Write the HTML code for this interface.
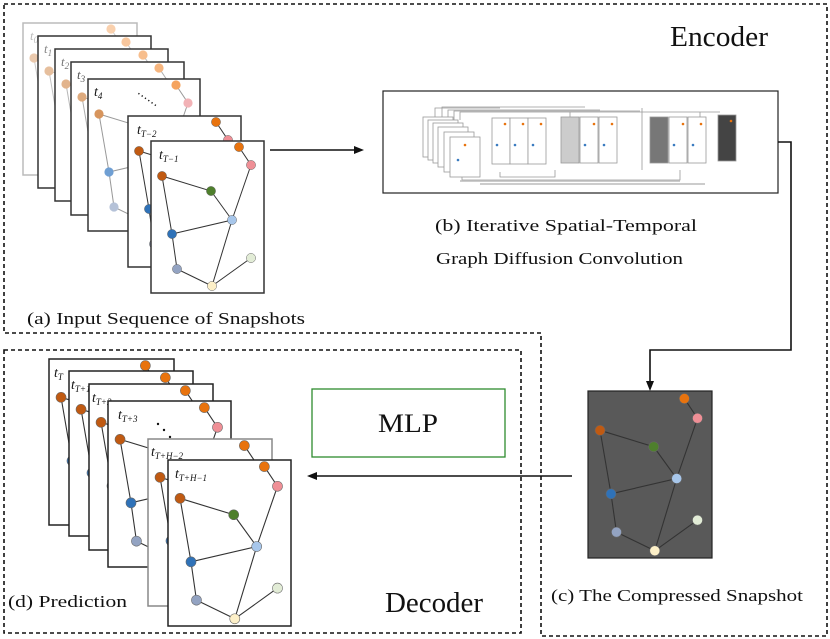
<!DOCTYPE html>
<html><head><meta charset="utf-8"><style>
body{margin:0;background:#fff}
svg{display:block}
text{font-family:"Liberation Serif",serif;fill:#111}
</style></head><body>
<svg width="830" height="639" viewBox="0 0 830 639" xmlns="http://www.w3.org/2000/svg">
<defs>
<g id="g">
<path d="M88 6L100 24L81 79L61 145L100 117M11 35L60 50L81 79L21 93L11 35M21 93L26 128L61 145" stroke="#333" stroke-width="1" fill="none"/>
<g stroke="#666" stroke-width="0.5">
<circle cx="88" cy="6" r="4.6" fill="#e8730e"/>
<circle cx="100" cy="24" r="4.6" fill="#ef8f96"/>
<circle cx="11" cy="35" r="4.6" fill="#c05a12"/>
<circle cx="60" cy="50" r="4.6" fill="#4e7f2c"/>
<circle cx="81" cy="79" r="4.6" fill="#a7c6ea"/>
<circle cx="21" cy="93" r="4.6" fill="#2f72b8"/>
<circle cx="26" cy="128" r="4.6" fill="#93a3c2"/>
<circle cx="61" cy="145" r="4.6" fill="#fdf0c8"/>
<circle cx="100" cy="117" r="4.6" fill="#e2ecd6"/>
</g>
</g>
<g id="gf">
<path d="M88 6L100 24L81 79L61 145L100 117M11 35L60 50L81 79L21 93L11 35M21 93L26 128L61 145" stroke="#999" stroke-width="1" fill="none"/>
<g>
<circle cx="88" cy="6" r="4.6" fill="#f5a35e"/>
<circle cx="100" cy="24" r="4.6" fill="#f2b2b6"/>
<circle cx="11" cy="35" r="4.6" fill="#d7955d"/>
<circle cx="60" cy="50" r="4.6" fill="#d7955d"/>
<circle cx="81" cy="79" r="4.6" fill="#7aa6d6"/>
<circle cx="21" cy="93" r="4.6" fill="#6f9fd3"/>
<circle cx="26" cy="128" r="4.6" fill="#b5c2d8"/>
<circle cx="61" cy="145" r="4.6" fill="#fdf0c8"/>
<circle cx="100" cy="117" r="4.6" fill="#e2ecd6"/>
</g>
</g>
</defs>

<path d="M4 4H827V636H541V333H4Z" fill="none" stroke="#111" stroke-width="1.6" stroke-dasharray="4,3"/>
<rect x="4" y="350" width="517" height="283" fill="none" stroke="#111" stroke-width="1.6" stroke-dasharray="4,3"/>

<g stroke-width="1.5">
<rect x="23" y="23" width="114" height="152" fill="#fff" stroke="#bbb"/>
<g opacity="0.5"><use href="#gf" transform="translate(23,23)"/></g>
<text x="30" y="40" font-size="13" font-style="italic" style="fill:#bbb">t<tspan font-size="9" dy="3">0</tspan></text>
<rect x="38" y="36" width="113" height="152" fill="#fff" stroke="#333"/>
<g opacity="0.6"><use href="#gf" transform="translate(38,36)"/></g>
<text x="44" y="53" font-size="13" font-style="italic" style="fill:#888">t<tspan font-size="9" dy="3">1</tspan></text>
<rect x="55" y="49" width="113" height="152" fill="#fff" stroke="#333"/>
<g opacity="0.7"><use href="#gf" transform="translate(55,49)"/></g>
<text x="61" y="66" font-size="13" font-style="italic" style="fill:#777">t<tspan font-size="9" dy="3">2</tspan></text>
<rect x="71" y="62" width="113" height="153" fill="#fff" stroke="#333"/>
<g opacity="0.8"><use href="#gf" transform="translate(71,62)"/></g>
<text x="77" y="79" font-size="13" font-style="italic" style="fill:#555">t<tspan font-size="9" dy="3">3</tspan></text>
<rect x="88" y="79" width="112" height="152" fill="#fff" stroke="#333"/>
<use href="#gf" transform="translate(88,79)"/>
<text x="94" y="96" font-size="14" font-style="italic">t<tspan font-size="9" dy="3">4</tspan></text>
<text x="135" y="100" font-size="12" transform="rotate(35 142 98)">⋯⋯</text>
<rect x="128" y="116" width="113" height="151" fill="#fff" stroke="#333"/>
<use href="#g" transform="translate(128,116)"/>
<text x="137" y="134" font-size="14" font-style="italic">t<tspan font-size="9" dy="3">T−2</tspan></text>
<rect x="151" y="141" width="113" height="152" fill="#fff" stroke="#333"/>
<use href="#g" transform="translate(151,141)"/>
<text x="159" y="159" font-size="14" font-style="italic">t<tspan font-size="9" dy="3">T−1</tspan></text>
</g>
<text x="27" y="324" font-size="17" textLength="278" lengthAdjust="spacingAndGlyphs">(a)  Input Sequence of Snapshots</text>

<line x1="270" y1="150" x2="357" y2="150" stroke="#111" stroke-width="1.6"/>
<path d="M364 150L354 146L354 154Z" fill="#111"/>

<rect x="383" y="91" width="395" height="102" fill="#fff" stroke="#222" stroke-width="1.2"/>
<g stroke="#999" stroke-width="0.8" fill="#fff">
<path d="M435 120V108H500M442 120V107H585M448 120V110H600M454 120V111H640M460 120V112H720M700 112V120M570 112V120M642 108V170M462 172V180H680V170M500 172V177H555V170" fill="none"/>
<path d="M460 181H680M480 184H705" fill="none" stroke="#bbb" stroke-width="1.5"/>
<rect x="423" y="117" width="30" height="40"/>
<rect x="428" y="120" width="30" height="40"/>
<rect x="433" y="123" width="30" height="40"/>
<rect x="438" y="127" width="30" height="40"/>
<rect x="444" y="132" width="30" height="40"/>
<rect x="450" y="137" width="30" height="40"/>
<rect x="492" y="118" width="18" height="46"/>
<rect x="510" y="118" width="18" height="46"/>
<rect x="528" y="118" width="18" height="46"/>
<rect x="561" y="117" width="18" height="46" fill="#ccc"/>
<rect x="580" y="117" width="18" height="46"/>
<rect x="599" y="117" width="18" height="46"/>
<rect x="650" y="117" width="18" height="46" fill="#777"/>
<rect x="669" y="117" width="18" height="46"/>
<rect x="688" y="117" width="18" height="46"/>
<rect x="718" y="115" width="18" height="46" fill="#444"/>
</g>
<g fill="#e8730e"><circle cx="505" cy="124" r="1.3"/><circle cx="523" cy="124" r="1.3"/><circle cx="541" cy="124" r="1.3"/><circle cx="594" cy="124" r="1.3"/><circle cx="612" cy="124" r="1.3"/><circle cx="683" cy="124" r="1.3"/><circle cx="701" cy="124" r="1.3"/><circle cx="731" cy="121" r="1.3"/><circle cx="465" cy="145" r="1.3"/></g>
<g fill="#3a7bc0"><circle cx="497" cy="145" r="1.3"/><circle cx="515" cy="145" r="1.3"/><circle cx="533" cy="145" r="1.3"/><circle cx="585" cy="145" r="1.3"/><circle cx="604" cy="145" r="1.3"/><circle cx="674" cy="145" r="1.3"/><circle cx="693" cy="145" r="1.3"/><circle cx="458" cy="160" r="1.3"/></g>
<text x="435" y="231" font-size="17" textLength="262" lengthAdjust="spacingAndGlyphs">(b) Iterative Spatial-Temporal</text>
<text x="436" y="264" font-size="17" textLength="247" lengthAdjust="spacingAndGlyphs">Graph Diffusion Convolution</text>
<text x="670" y="46" font-size="28" textLength="98" lengthAdjust="spacingAndGlyphs">Encoder</text>

<path d="M778 142H791V350H650V384" fill="none" stroke="#111" stroke-width="1.6"/>
<path d="M650 391L646 381L654 381Z" fill="#111"/>

<rect x="588" y="391" width="124" height="167" fill="#595959" stroke="#222" stroke-width="1.2"/>
<use href="#g" transform="translate(588,392) scale(1.095)"/>
<text x="551" y="601" font-size="17" textLength="252" lengthAdjust="spacingAndGlyphs">(c)  The Compressed Snapshot</text>

<line x1="572" y1="476" x2="315" y2="476" stroke="#111" stroke-width="1.6"/>
<path d="M307 476L317 472L317 480Z" fill="#111"/>

<rect x="312" y="389" width="193" height="68" fill="#fff" stroke="#2e8b2e" stroke-width="1.3"/>
<text x="378" y="432" font-size="26" textLength="60" lengthAdjust="spacingAndGlyphs">MLP</text>

<g stroke-width="1.5">
<rect x="49" y="359" width="125" height="166" fill="#fff" stroke="#222"/>
<use href="#g" transform="translate(49,359) scale(1.095)"/>
<text x="54" y="377" font-size="14" font-style="italic">t<tspan font-size="9" dy="3">T</tspan></text>
<rect x="69" y="371" width="124" height="165" fill="#fff" stroke="#222"/>
<use href="#g" transform="translate(69,371) scale(1.095)"/>
<text x="71" y="389" font-size="14" font-style="italic">t<tspan font-size="9" dy="3">T+1</tspan></text>
<rect x="89" y="384" width="124" height="166" fill="#fff" stroke="#222"/>
<use href="#g" transform="translate(89,384) scale(1.095)"/>
<text x="92" y="402" font-size="14" font-style="italic">t<tspan font-size="9" dy="3">T+2</tspan></text>
<rect x="108" y="401" width="123" height="166" fill="#fff" stroke="#222"/>
<use href="#g" transform="translate(108,401) scale(1.095)"/>
<text x="118" y="419" font-size="14" font-style="italic">t<tspan font-size="9" dy="3">T+3</tspan></text>
<g fill="#111"><circle cx="158" cy="424" r="1.2"/><circle cx="164" cy="430" r="1.2"/><circle cx="170" cy="437" r="1.2"/></g>
<rect x="148" y="439" width="124" height="167" fill="#fff" stroke="#888"/>
<use href="#g" transform="translate(148,439) scale(1.095)"/>
<text x="151" y="456" font-size="14" font-style="italic">t<tspan font-size="9" dy="3">T+H−2</tspan></text>
<rect x="168" y="460" width="123" height="166" fill="#fff" stroke="#222"/>
<use href="#g" transform="translate(168,460) scale(1.095)"/>
<text x="175" y="478" font-size="14" font-style="italic">t<tspan font-size="9" dy="3">T+H−1</tspan></text>
</g>
<text x="8" y="607" font-size="17" textLength="119" lengthAdjust="spacingAndGlyphs">(d)  Prediction</text>
<text x="385" y="612" font-size="28" textLength="98" lengthAdjust="spacingAndGlyphs">Decoder</text>
</svg>
</body></html>
